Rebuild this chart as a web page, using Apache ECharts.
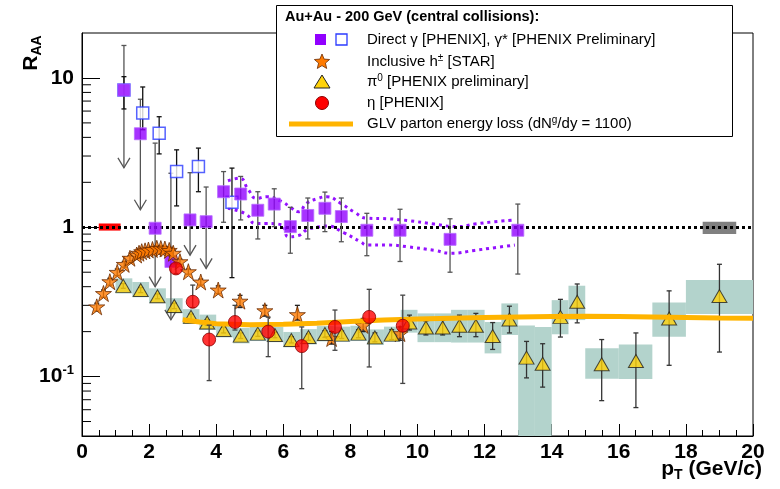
<!DOCTYPE html>
<html>
<head>
<meta charset="utf-8">
<script src="https://cdn.jsdelivr.net/npm/echarts@6/dist/echarts.min.js"></script>
<style>
html, body { margin: 0; padding: 0; background: #fff; }
#chart { width: 780px; height: 489px; }
</style>
</head>
<body>
<div id="chart"></div>
<script>
// ---- values ----
// direct photons [PHENIX] (filled squares), arrow = upper limit
const gamX = [1.25, 1.74, 2.18, 2.65, 3.22, 3.70, 4.22, 4.73, 5.24, 5.73, 6.21, 6.73, 7.24, 7.73, 8.49, 9.48, 10.97, 12.99]
const gamY = [8.3, 4.23, 0.985, 0.59, 1.12, 1.09, 1.73, 1.67, 1.30, 1.43, 1.01, 1.20, 1.34, 1.18, 0.955, 0.955, 0.83, 0.955]
const gamLo = [2.5, 1.31, 0.40, 0.24, 0.65, 0.53, 1.08, 1.12, 0.835, 1.01, 0.67, 0.835, 0.935, 0.80, 0.645, 0.59, 0.50, 0.486]
const gamHi = [16.5, 7.2, 3.66, 2.3, 2.32, 1.86, 2.36, 2.19, 1.73, 1.81, 1.36, 1.57, 1.72, 1.57, 1.24, 1.32, 1.14, 1.43]
const gamArrow = [1, 1, 1, 1, 1, 1, 0, 0, 0, 0, 0, 0, 0, 0, 0, 0, 0, 0]

// virtual photons gamma* [PHENIX preliminary] (open squares)
const virX = [1.25, 1.81, 2.30, 2.82, 3.47, 4.47]
const virY = [8.3, 5.82, 4.27, 2.36, 2.55, 1.47]
const virLo = [6.2, 4.5, 3.1, 1.39, 1.73, 0.46]
const virHi = [10.2, 8.7, 5.5, 3.3, 3.39, 2.49]

// purple dotted band around the direct photon points
const bandUpX = [4.35, 4.7, 4.96, 5.2, 5.5, 5.95, 6.25, 6.45, 6.7, 7.0, 7.3, 7.7, 8.1, 8.5, 9.1, 9.7, 10.5, 11.2, 11.7, 12.3, 12.9]
const bandUpY = [2.05, 2.13, 1.78, 1.56, 1.6, 1.49, 1.34, 1.27, 1.45, 1.55, 1.6, 1.45, 1.27, 1.15, 1.14, 1.11, 1.05, 1.01, 1.05, 1.09, 1.12]
const bandLoX = [4.35, 4.9, 5.16, 5.46, 5.95, 6.15, 6.45, 6.7, 7.0, 7.3, 7.8, 8.3, 8.5, 9.1, 9.7, 10.5, 11.0, 11.7, 12.3, 12.9]
const bandLoY = [1.34, 1.22, 1.06, 1.06, 1.04, 0.865, 0.88, 0.96, 1.0, 1.02, 0.92, 0.8, 0.76, 0.76, 0.74, 0.70, 0.67, 0.70, 0.73, 0.76]

// inclusive h+- [STAR] (stars)
const hX = [0.44, 0.64, 0.83, 1.05, 1.26, 1.43, 1.63, 1.70, 1.78, 1.88, 1.98, 2.10, 2.23, 2.35, 2.47, 2.60, 2.72, 2.92, 3.17, 3.54, 4.06, 4.71, 5.45, 6.42, 7.44, 8.38, 9.48]
const hY = [0.293, 0.36, 0.432, 0.499, 0.564, 0.62, 0.652, 0.67, 0.686, 0.695, 0.704, 0.71, 0.723, 0.72, 0.715, 0.70, 0.67, 0.588, 0.504, 0.43, 0.38, 0.32, 0.276, 0.26, 0.18, 0.22, 0.194]
const hLo = [0.275, 0.34, 0.41, 0.475, 0.54, 0.595, 0.625, 0.645, 0.66, 0.67, 0.68, 0.685, 0.695, 0.69, 0.685, 0.67, 0.64, 0.565, 0.485, 0.41, 0.36, 0.29, 0.254, 0.239, 0.165, 0.2, 0.175]
const hHi = [0.31, 0.38, 0.455, 0.525, 0.59, 0.645, 0.68, 0.695, 0.715, 0.72, 0.73, 0.74, 0.75, 0.75, 0.745, 0.73, 0.70, 0.612, 0.525, 0.45, 0.405, 0.35, 0.30, 0.30, 0.2, 0.245, 0.215]

// pi0 [PHENIX preliminary] (triangles) with systematic boxes
const piX = [1.23, 1.75, 2.25, 2.75, 3.25, 3.73, 4.22, 4.73, 5.24, 5.75, 6.24, 6.75, 7.24, 7.74, 8.24, 8.73, 9.23, 9.76, 10.25, 10.75, 11.25, 11.74, 12.24, 12.74, 13.25, 13.73, 14.26, 14.76, 15.49, 16.51, 17.5, 19.0]
const piY = [0.405, 0.38, 0.345, 0.297, 0.251, 0.23, 0.205, 0.188, 0.194, 0.19, 0.176, 0.184, 0.193, 0.191, 0.194, 0.183, 0.191, 0.23, 0.213, 0.213, 0.219, 0.219, 0.187, 0.241, 0.134, 0.122, 0.251, 0.317, 0.121, 0.127, 0.245, 0.346]
const piLo = [0.39, 0.365, 0.332, 0.285, 0.241, 0.22, 0.196, 0.18, 0.186, 0.182, 0.168, 0.175, 0.183, 0.18, 0.182, 0.171, 0.177, 0.205, 0.19, 0.19, 0.185, 0.185, 0.152, 0.196, 0.098, 0.085, 0.184, 0.229, 0.069, 0.062, 0.119, 0.146]
const piHi = [0.42, 0.395, 0.358, 0.31, 0.262, 0.24, 0.214, 0.196, 0.202, 0.198, 0.185, 0.193, 0.203, 0.202, 0.206, 0.196, 0.206, 0.258, 0.236, 0.238, 0.258, 0.265, 0.23, 0.296, 0.172, 0.166, 0.329, 0.417, 0.177, 0.196, 0.375, 0.565]
const piBinLo = [1.0, 1.5, 2.0, 2.5, 3.0, 3.5, 4.0, 4.5, 5.0, 5.5, 6.0, 6.5, 7.0, 7.5, 8.0, 8.5, 9.0, 9.5, 10, 10.5, 11, 11.5, 12, 12.5, 13, 13.5, 14, 14.5, 15, 16, 17, 18]
const piBinHi = [1.5, 2.0, 2.5, 3.0, 3.5, 4.0, 4.5, 5.0, 5.5, 6.0, 6.5, 7.0, 7.5, 8.0, 8.5, 9.0, 9.5, 10, 10.5, 11, 11.5, 12, 12.5, 13, 13.5, 14, 14.5, 15, 16, 17, 18, 20]
const piSysLo = [0.36, 0.34, 0.31, 0.265, 0.225, 0.205, 0.183, 0.167, 0.173, 0.17, 0.157, 0.164, 0.172, 0.171, 0.173, 0.163, 0.171, 0.197, 0.17, 0.17, 0.169, 0.169, 0.143, 0.19, 0.01, 0.01, 0.192, 0.239, 0.0966, 0.0965, 0.185, 0.262]
const piSysHi = [0.455, 0.43, 0.39, 0.335, 0.283, 0.26, 0.232, 0.212, 0.219, 0.215, 0.199, 0.208, 0.218, 0.216, 0.219, 0.207, 0.216, 0.28, 0.265, 0.265, 0.28, 0.28, 0.232, 0.309, 0.22, 0.215, 0.325, 0.406, 0.155, 0.164, 0.314, 0.443]

// eta [PHENIX] (circles)
const etaX = [2.80, 3.30, 3.79, 4.56, 5.55, 6.55, 7.54, 8.56, 9.56]
const etaY = [0.53, 0.317, 0.177, 0.232, 0.20, 0.16, 0.215, 0.251, 0.219]
const etaLo = [0.49, 0.29, 0.094, 0.205, 0.136, 0.083, 0.15, 0.116, 0.09]
const etaHi = [0.57, 0.41, 0.221, 0.30, 0.25, 0.215, 0.279, 0.384, 0.351]

// GLV parton energy loss curve
const glvX = [3.0, 3.5, 4.0, 5.0, 6.0, 7.0, 8.0, 9.0, 10, 11, 12, 13, 14, 15, 16, 17, 18, 19, 20]
const glvY = [0.24, 0.232, 0.226, 0.222, 0.224, 0.228, 0.234, 0.239, 0.243, 0.246, 0.249, 0.251, 0.253, 0.254, 0.253, 0.251, 0.249, 0.247, 0.246]

// normalisation boxes at R_AA = 1: [xlo, xhi, ylo, yhi]
const normPhenix = [0.5, 1.15, 0.95, 1.06]
const normStar = [18.5, 19.5, 0.90, 1.09]

// axis ticks
const xTickStep = 2
const yMajorLabels = { '0.1': '{b|10}{s|-1}', '1': '{b|1}', '10': '{b|10}' }
const yMinorTicks = [0.05, 0.06, 0.07, 0.08, 0.09, 0.2, 0.3, 0.4, 0.5, 0.6, 0.7, 0.8, 0.9, 2, 3, 4, 5, 6, 7, 8, 9]

const FONT = '"Liberation Sans", Arial, Helvetica, sans-serif'

const chart = echarts.init(document.getElementById('chart'))

function zip(...arrs) {
  return arrs[0].map((_, i) => arrs.map(a => a[i]))
}

// error bars: [x, lo, hi, arrow]
function errorBars(color, capW) {
  return function (params, api) {
    const x = api.value(0)
    const top = api.coord([x, api.value(2)])
    const bot = api.coord([x, api.value(1)])
    const st = { stroke: color, lineWidth: 1.3, fill: null }
    const kids = [
      { type: 'line', shape: { x1: top[0], y1: top[1], x2: bot[0], y2: bot[1] }, style: st },
      { type: 'line', shape: { x1: top[0] - capW, y1: top[1], x2: top[0] + capW, y2: top[1] }, style: st }
    ]
    if (api.value(3)) {
      kids.push({ type: 'polyline', shape: { points: [[bot[0] - 6, bot[1] - 10], [bot[0], bot[1]], [bot[0] + 6, bot[1] - 10]] }, style: st })
    } else {
      kids.push({ type: 'line', shape: { x1: bot[0] - capW, y1: bot[1], x2: bot[0] + capW, y2: bot[1] }, style: st })
    }
    return { type: 'group', children: kids }
  }
}

// boxes: [xlo, xhi, ylo, yhi]
function boxes(fill) {
  return function (params, api) {
    const p1 = api.coord([api.value(0), api.value(3)])
    const p2 = api.coord([api.value(1), api.value(2)])
    const cs = params.coordSys
    const rect = echarts.graphic.clipRectByRect(
      { x: p1[0], y: p1[1], width: p2[0] - p1[0], height: p2[1] - p1[1] },
      { x: cs.x, y: cs.y, width: cs.width, height: cs.height })
    if (!rect) return
    return { type: 'rect', shape: rect, style: { fill: fill } }
  }
}

// five point star outline for the legend
function starPoints(cx, cy, r) {
  const pts = []
  for (let i = 0; i < 10; i++) {
    const a = -Math.PI / 2 + i * Math.PI / 5
    const rr = i % 2 ? r * 0.45 : r
    pts.push([cx + rr * Math.cos(a), cy + rr * Math.sin(a)])
  }
  return pts
}

const starPath = 'path://M50,0 L62,36 L100,36 L69,58 L81,95 L50,72 L19,95 L31,58 L0,36 L38,36 Z'

const supRich = {
  n: { fontFamily: FONT, fontSize: 15, fill: '#000', lineHeight: 18 },
  s: { fontFamily: FONT, fontSize: 10, fill: '#000', lineHeight: 10, verticalAlign: 'top' }
}

const option = {
  animation: false,
  backgroundColor: '#fff',
  grid: {
    left: 82, right: 27, top: 33, bottom: 53,
    show: true, borderColor: '#000', borderWidth: 1,
    containLabel: false, outerBoundsMode: 'none'
  },
  xAxis: {
    type: 'value', min: 0, max: 20, interval: xTickStep,
    axisLine: { lineStyle: { color: '#000', width: 1 } },
    axisTick: { inside: true, length: 12, lineStyle: { color: '#000' } },
    minorTick: { show: true, splitNumber: 4, length: 6, lineStyle: { color: '#000' } },
    splitLine: { show: false },
    axisLabel: { color: '#000', fontFamily: FONT, fontWeight: 'bold', fontSize: 21, margin: 6 }
  },
  yAxis: {
    type: 'log', logBase: 10, min: 0.04, max: 20,
    axisLine: { lineStyle: { color: '#000', width: 1 } },
    axisTick: { inside: true, length: 18, lineStyle: { color: '#000' } },
    splitLine: { show: false },
    axisLabel: {
      showMinLabel: false, showMaxLabel: false, margin: 8,
      formatter: v => yMajorLabels[String(+(+v).toPrecision(3))] || '',
      rich: {
        b: { fontFamily: FONT, fontWeight: 'bold', fontSize: 21, color: '#000', lineHeight: 26 },
        s: { fontFamily: FONT, fontWeight: 'bold', fontSize: 13, color: '#000', lineHeight: 13, verticalAlign: 'top' }
      }
    }
  },
  series: [
    // y minor ticks
    {
      type: 'custom', silent: true, z: 1,
      data: yMinorTicks.map(v => [0, v]),
      renderItem: (params, api) => {
        const p = api.coord([0, api.value(1)])
        return { type: 'line', shape: { x1: p[0], y1: p[1], x2: p[0] + 9, y2: p[1] }, style: { stroke: '#000', lineWidth: 1 } }
      }
    },
    // pi0 systematic boxes
    {
      type: 'custom', silent: true, z: 2,
      data: zip(piBinLo, piBinHi, piSysLo, piSysHi),
      encode: { x: [0, 1], y: [2, 3] },
      renderItem: boxes('#b3d3cc')
    },
    // normalisation boxes
    {
      type: 'custom', silent: true, z: 4,
      data: [normPhenix], encode: { x: [0, 1], y: [2, 3] },
      renderItem: boxes('#ff0000')
    },
    {
      type: 'custom', silent: true, z: 4,
      data: [normStar], encode: { x: [0, 1], y: [2, 3] },
      renderItem: boxes('#808080'),
      markLine: {
        silent: true, symbol: 'none', label: { show: false },
        lineStyle: { color: '#000', width: 3, type: [3, 3] },
        data: [{ yAxis: 1 }]
      }
    },
    // dotted band
    {
      type: 'line', z: 3, showSymbol: false, smooth: true,
      data: zip(bandUpX, bandUpY),
      lineStyle: { color: '#9411ff', width: 3, type: [3, 4] }
    },
    {
      type: 'line', z: 3, showSymbol: false, smooth: true,
      data: zip(bandLoX, bandLoY),
      lineStyle: { color: '#9411ff', width: 3, type: [3, 4] }
    },
    // error bars
    { type: 'custom', z: 5, data: zip(gamX, gamLo, gamHi, gamArrow), encode: { x: 0, y: [1, 2] }, renderItem: errorBars('#555', 2.5) },
    { type: 'custom', z: 5, data: zip(virX, virLo, virHi, virX.map(() => 0)), encode: { x: 0, y: [1, 2] }, renderItem: errorBars('#111', 2.5) },
    { type: 'custom', z: 6, data: zip(hX, hLo, hHi, hX.map(() => 0)), encode: { x: 0, y: [1, 2] }, renderItem: errorBars('#222', 2.5) },
    { type: 'custom', z: 7, data: zip(piX, piLo, piHi, piX.map(() => 0)), encode: { x: 0, y: [1, 2] }, renderItem: errorBars('#333', 2.5) },
    { type: 'custom', z: 9, data: zip(etaX, etaLo, etaHi, etaX.map(() => 0)), encode: { x: 0, y: [1, 2] }, renderItem: errorBars('#444', 2.5) },
    // markers
    {
      type: 'scatter', z: 5, symbol: 'rect', symbolSize: 12,
      data: zip(virX, virY),
      itemStyle: { color: '#fff', borderColor: '#2b3bff', borderWidth: 1.5 }
    },
    {
      type: 'scatter', z: 5, symbol: 'rect', symbolSize: 12,
      data: zip(gamX, gamY),
      itemStyle: { color: '#9100ff', borderColor: '#b66bff', borderWidth: 1 }
    },
    {
      type: 'scatter', z: 6, symbol: starPath, symbolSize: 16,
      data: zip(hX, hY),
      itemStyle: { color: '#ff7a00', borderColor: '#6a2a00', borderWidth: 1 }
    },
    {
      type: 'scatter', z: 7, symbol: 'triangle', symbolSize: [15, 13],
      data: zip(piX, piY),
      itemStyle: { color: '#ffd20a', borderColor: '#222', borderWidth: 1 }
    },
    {
      type: 'line', z: 8, showSymbol: false,
      data: zip(glvX, glvY),
      lineStyle: { color: '#ffb400', width: 5 }
    },
    {
      type: 'scatter', z: 9, symbol: 'circle', symbolSize: 13,
      data: zip(etaX, etaY),
      itemStyle: { color: '#ff0000', borderColor: '#8a0000', borderWidth: 1 }
    }
  ],
  graphic: [
    // axis titles
    {
      type: 'text', x: 31, y: 53, rotation: Math.PI / 2, z: 20,
      style: {
        text: '{r|R}{s|AA}', align: 'center', verticalAlign: 'middle',
        rich: {
          r: { fontFamily: FONT, fontWeight: 'bold', fontSize: 21, fill: '#000', lineHeight: 26 },
          s: { fontFamily: FONT, fontWeight: 'bold', fontSize: 14, fill: '#000', lineHeight: 14, verticalAlign: 'bottom' }
        }
      }
    },
    {
      type: 'text', x: 762, y: 469, z: 20,
      style: {
        text: '{b|p}{s|T}{b| (GeV/}{i|c}{b|)}', align: 'right', verticalAlign: 'middle',
        rich: {
          b: { fontFamily: FONT, fontWeight: 'bold', fontSize: 21, fill: '#000', lineHeight: 26 },
          i: { fontFamily: FONT, fontWeight: 'bold', fontStyle: 'italic', fontSize: 21, fill: '#000', lineHeight: 26 },
          s: { fontFamily: FONT, fontWeight: 'bold', fontSize: 14, fill: '#000', lineHeight: 14, verticalAlign: 'bottom' }
        }
      }
    },
    // legend
    {
      type: 'group', z: 30,
      children: [
        { type: 'rect', shape: { x: 276.5, y: 5.5, width: 456, height: 131 }, style: { fill: '#fff', stroke: '#000', lineWidth: 1 } },
        { type: 'text', x: 285, y: 17, style: { text: 'Au+Au - 200 GeV (central collisions):', fontFamily: FONT, fontWeight: 'bold', fontSize: 14.5, fill: '#000', verticalAlign: 'middle' } },
        { type: 'rect', shape: { x: 315, y: 34, width: 11, height: 11 }, style: { fill: '#9100ff' } },
        { type: 'rect', shape: { x: 336, y: 34, width: 11, height: 11 }, style: { fill: '#fff', stroke: '#2b3bff', lineWidth: 1.3 } },
        { type: 'text', x: 367, y: 40, style: { text: 'Direct γ [PHENIX], γ* [PHENIX Preliminary]', fontFamily: FONT, fontSize: 15, fill: '#000', verticalAlign: 'middle' } },
        { type: 'polygon', shape: { points: starPoints(322, 62, 8) }, style: { fill: '#ff7a00', stroke: '#6a2a00', lineWidth: 0.8 } },
        { type: 'text', x: 367, y: 62, style: { text: '{n|Inclusive h}{s|±}{n| [STAR]}', verticalAlign: 'middle', rich: supRich } },
        { type: 'polygon', shape: { points: [[322, 75], [330, 88], [314, 88]] }, style: { fill: '#ffd20a', stroke: '#222', lineWidth: 1 } },
        { type: 'text', x: 367, y: 82, style: { text: '{n|π}{s|0}{n| [PHENIX preliminary]}', verticalAlign: 'middle', rich: supRich } },
        { type: 'circle', shape: { cx: 322, cy: 103, r: 6.5 }, style: { fill: '#ff0000', stroke: '#8a0000', lineWidth: 1 } },
        { type: 'text', x: 367, y: 103, style: { text: 'η [PHENIX]', fontFamily: FONT, fontSize: 15, fill: '#000', verticalAlign: 'middle' } },
        { type: 'line', shape: { x1: 289, y1: 124, x2: 353, y2: 124 }, style: { stroke: '#ffb400', lineWidth: 5 } },
        { type: 'text', x: 367, y: 124, style: { text: '{n|GLV parton energy loss (dN}{s|g}{n|/dy = 1100)}', verticalAlign: 'middle', rich: supRich } }
      ]
    }
  ]
}

chart.setOption(option)
</script>
</body>
</html>
